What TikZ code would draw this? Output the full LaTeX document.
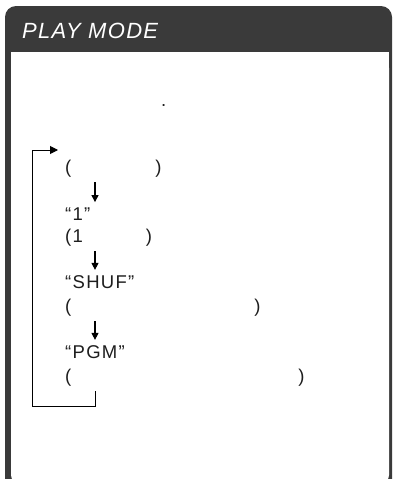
\documentclass[tikz,border=0pt]{standalone}
\usepackage{fontspec}
\setmainfont{Liberation Sans}
\newfontfamily\bodyfont{Liberation Sans}[LetterSpace=7]
\newfontfamily\titlefont{Liberation Sans}[LetterSpace=6]
\usetikzlibrary{arrows.meta}

\definecolor{framegray}{HTML}{3A3A3A}
\definecolor{textgray}{HTML}{1E1E1E}

\tikzstyle{step text} = [anchor=base west, inner xsep=0pt, inner ysep=5pt, font=\bodyfont\fontsize{18.5}{18.5}\selectfont, text=textgray]
\tikzstyle{arrow} = [line width=1.2pt, -{Triangle[length=7pt,width=7pt]}]
\tikzstyle{loop line} = [line width=1pt, -{Triangle[length=8pt,width=8pt]}]

\begin{document}
\begin{tikzpicture}[x=1pt, y=-1pt]
    \useasboundingbox (0,0) rectangle (394,479);
    \clip (0,0) rectangle (394,479);

    % Frame
    \fill[framegray, rounded corners=11pt] (5,6) rectangle (392,490);
    \fill[white] (11,52) rectangle (389,470);
    \fill[white, rounded corners=8pt] (11,60) rectangle (389,483);
    \node(title) [anchor=base west, inner sep=0pt, text=white, font=\titlefont\itshape\fontsize{22}{22}\selectfont] at (22,38) {PLAY MODE};

    % Nodes
    \node(dot) [step text] at (161,106) {.};
    \node(free) [step text] at (65,173) {(\hspace{84pt})};
    \node(one) [step text] at (65,220) {“1”};
    \node(onenote) [step text] at (65,242) {(1\hspace{63pt})};
    \node(shuf) [step text] at (65,288) {“SHUF”};
    \node(shufnote) [step text] at (65,312) {(\hspace{183pt})};
    \node(pgm) [step text] at (65,358) {“PGM”};
    \node(pgmnote) [step text] at (65,382) {(\hspace{227pt})};

    \coordinate (ax) at (95,0);
    \coordinate (loopbot) at (32,406);
    \coordinate (loopin) at (58,150);

    % Arrows
    \draw [arrow] (free.south -| ax) -- (one.north -| ax);
    \draw [arrow] (onenote.south -| ax) -- (shuf.north -| ax);
    \draw [arrow] (shufnote.south -| ax) -- (pgm.north -| ax);
    \draw [loop line] (pgmnote.south -| ax) |- (loopbot) |- (loopin);

\end{tikzpicture}
\end{document}
